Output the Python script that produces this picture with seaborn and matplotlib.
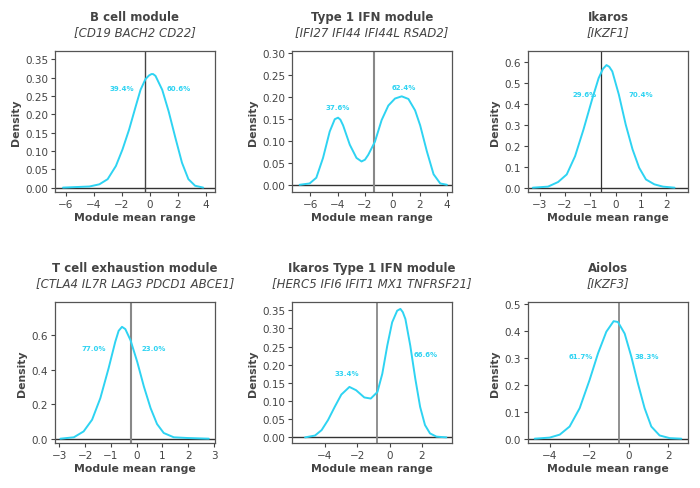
import matplotlib
matplotlib.use("Agg")
import matplotlib.pyplot as plt
import seaborn as sns
import pandas as pd

# density curves (x = module mean, y = density)
bcell_x = [-6.19, -4.30, -3.59, -3.0, -2.41, -1.94, -1.47, -1.0, -0.65, -0.3, -0.05, 0.13, 0.25, 0.42, 0.9, 1.36, 1.84, 2.31, 2.77, 3.25, 3.83]
bcell_y = [0.0, 0.003, 0.009, 0.023, 0.059, 0.104, 0.158, 0.221, 0.267, 0.296, 0.306, 0.310, 0.310, 0.305, 0.267, 0.208, 0.136, 0.068, 0.023, 0.005, 0.0]

ifn_x = [-6.78, -6.05, -5.56, -5.07, -4.58, -4.21, -3.97, -3.8, -3.6, -3.11, -2.62, -2.25, -2.0, -1.76, -1.27, -0.78, -0.29, 0.2, 0.69, 1.18, 1.67, 2.04, 2.53, 3.02, 3.51, 4.0]
ifn_y = [0.0, 0.003, 0.016, 0.061, 0.121, 0.149, 0.1525, 0.148, 0.135, 0.091, 0.061, 0.053, 0.057, 0.068, 0.098, 0.147, 0.180, 0.196, 0.201, 0.195, 0.169, 0.135, 0.076, 0.024, 0.003, 0.0]

ikaros_x = [-3.27, -2.67, -2.27, -1.93, -1.6, -1.27, -0.93, -0.67, -0.5, -0.36, -0.25, -0.13, 0.13, 0.4, 0.67, 0.93, 1.2, 1.53, 1.87, 2.33]
ikaros_y = [0.0, 0.005, 0.027, 0.063, 0.15, 0.276, 0.419, 0.521, 0.565, 0.583, 0.575, 0.553, 0.442, 0.30, 0.182, 0.095, 0.039, 0.016, 0.005, 0.0]

texh_x = [-2.96, -2.44, -2.06, -1.73, -1.41, -1.09, -0.83, -0.7, -0.57, -0.44, -0.24, 0.02, 0.28, 0.54, 0.79, 1.05, 1.44, 1.96, 2.8]
texh_y = [0.0, 0.008, 0.042, 0.11, 0.235, 0.408, 0.562, 0.625, 0.648, 0.635, 0.571, 0.446, 0.302, 0.177, 0.085, 0.033, 0.008, 0.004, 0.0]

ikifn_x = [-5.22, -4.61, -4.2, -3.8, -3.39, -2.98, -2.48, -2.07, -1.56, -1.16, -0.75, -0.45, -0.14, 0.16, 0.47, 0.67, 0.82, 0.98, 1.28, 1.59, 1.89, 2.19, 2.5, 2.9, 3.51]
ikifn_y = [0.0, 0.005, 0.02, 0.048, 0.084, 0.118, 0.139, 0.130, 0.110, 0.107, 0.125, 0.175, 0.253, 0.317, 0.349, 0.354, 0.345, 0.326, 0.253, 0.162, 0.084, 0.034, 0.011, 0.002, 0.0]

aiolos_x = [-4.76, -4.0, -3.49, -2.99, -2.48, -1.98, -1.55, -1.13, -0.76, -0.54, -0.2, 0.14, 0.47, 0.81, 1.15, 1.57, 2.08, 2.67]
aiolos_y = [0.0, 0.004, 0.015, 0.045, 0.113, 0.217, 0.316, 0.396, 0.435, 0.432, 0.389, 0.303, 0.205, 0.113, 0.045, 0.012, 0.002, 0.0]

titles = ["B cell module", "Type 1 IFN module", "Ikaros",
          "T cell exhaustion module", "Ikaros Type 1 IFN module", "Aiolos"]
genes = ["[CD19 BACH2 CD22]", "[IFI27 IFI44 IFI44L RSAD2]", "[IKZF1]",
         "[CTLA4 IL7R LAG3 PDCD1 ABCE1]", "[HERC5 IFI6 IFIT1 MX1 TNFRSF21]", "[IKZF3]"]
cutoffs = [-0.33, -1.37, -0.57, -0.22, -0.79, -0.50]
pct_left = ["39.4%", "37.6%", "29.6%", "77.0%", "33.4%", "61.7%"]
pct_right = ["60.6%", "62.4%", "70.4%", "23.0%", "66.6%", "38.3%"]

curves = [(bcell_x, bcell_y), (ifn_x, ifn_y), (ikaros_x, ikaros_y),
          (texh_x, texh_y), (ikifn_x, ikifn_y), (aiolos_x, aiolos_y)]

# layout / style
left_pos = [(-1.95, 0.273), (-4.0, 0.176), (-1.22, 0.445), (-1.65, 0.523), (-2.65, 0.176), (-2.4, 0.307)]
right_pos = [(2.05, 0.273), (0.83, 0.222), (1.01, 0.445), (0.65, 0.523), (2.21, 0.229), (0.93, 0.307)]
xlims = [(-6.76, 4.67), (-7.34, 4.37), (-3.46, 2.86), (-3.17, 3.04), (-6.03, 3.86), (-5.10, 3.01)]
ylims = [(-0.012, 0.373), (-0.0164, 0.304), (-0.0205, 0.65), (-0.025, 0.792), (-0.0155, 0.373), (-0.016, 0.506)]
xticks = [range(-6, 5, 2), range(-6, 5, 2), range(-3, 3), range(-3, 4), range(-4, 3, 2), range(-4, 3, 2)]
yticks = [[0, .05, .10, .15, .20, .25, .30, .35], [0, .05, .10, .15, .20, .25, .30],
          [0, .1, .2, .3, .4, .5, .6], [0, .2, .4, .6],
          [0, .05, .10, .15, .20, .25, .30, .35], [0, .1, .2, .3, .4, .5]]
yfmt = ["%.2f", "%.2f", "%.1f", "%.1f", "%.2f", "%.1f"]
vline_style = [("#444444", 1.0), ("#888888", 1.5), ("#333333", 0.9),
               ("#888888", 1.5), ("#888888", 1.3), ("#888888", 1.3)]

sns.set_style("ticks")
plt.rcParams["font.family"] = ["DejaVu Sans"]

cyan = "#2ed3f2"
txt = "#444444"

fig = plt.figure(figsize=(7, 4.89), dpi=100)
lefts = [55, 292, 528]
tops = [52, 303]
W, H = 160, 141

for i in range(6):
    r, c = divmod(i, 3)
    ax = fig.add_axes([lefts[c] / 700, 1 - (tops[r] + H) / 489, W / 700, H / 489])
    df = pd.DataFrame({"x": curves[i][0], "y": curves[i][1]})
    sns.lineplot(data=df, x="x", y="y", ax=ax, color=cyan, lw=1.4)
    ax.axhline(0, color="#333333", lw=1.0, zorder=1)
    ax.axvline(cutoffs[i], color=vline_style[i][0], lw=vline_style[i][1], zorder=1)
    ax.text(*left_pos[i], pct_left[i], color=cyan, fontsize=5, fontweight="bold", ha="center", va="center")
    ax.text(*right_pos[i], pct_right[i], color=cyan, fontsize=5, fontweight="bold", ha="center", va="center")
    ax.set_xlim(*xlims[i])
    ax.set_ylim(*ylims[i])
    ax.set_xticks(list(xticks[i]))
    ax.set_yticks(yticks[i])
    ax.set_yticklabels([yfmt[i] % v for v in yticks[i]])
    ax.tick_params(labelsize=7.5, colors=txt, length=3, width=0.8, pad=2)
    for s in ax.spines.values():
        s.set_visible(True)
        s.set_color("#555555")
        s.set_linewidth(0.9)
    ax.set_xlabel("Module mean range", fontsize=7.8, fontweight="bold", color=txt, labelpad=2)
    ax.set_ylabel("Density", fontsize=7.8, fontweight="bold", color=txt, labelpad=3)
    ax.text(0.5, 1.245, titles[i], transform=ax.transAxes, ha="center", va="center",
            fontsize=8.5, fontweight="bold", color=txt)
    ax.text(0.5, 1.135, genes[i], transform=ax.transAxes, ha="center", va="center",
            fontsize=8.5, style="italic", color=txt)

fig.savefig("out.png", dpi=100)
